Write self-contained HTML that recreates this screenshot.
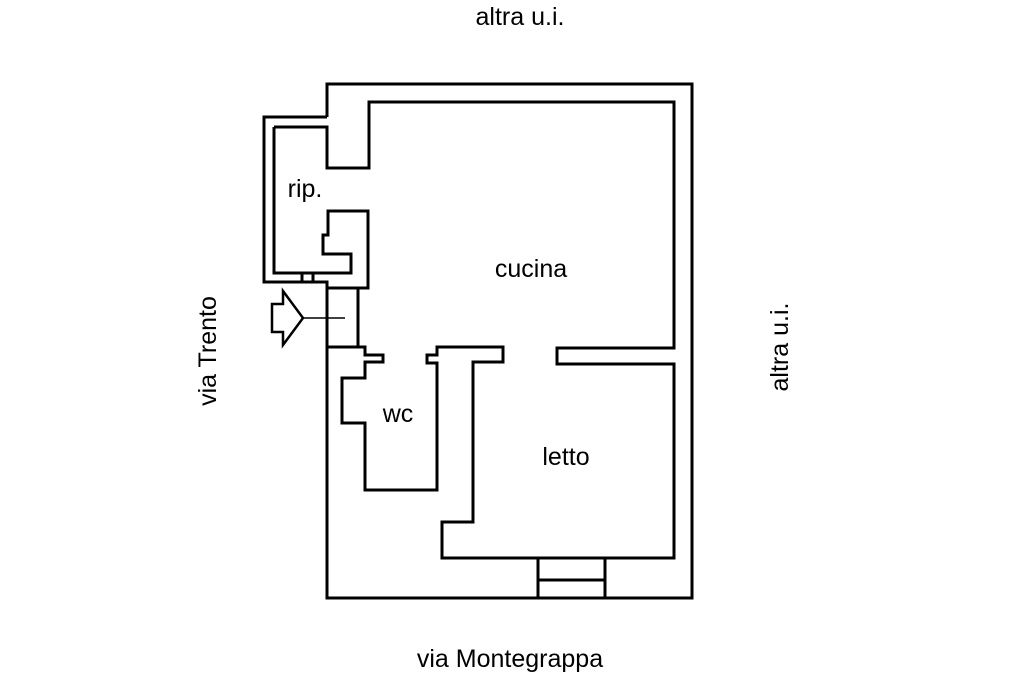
<!DOCTYPE html>
<html><head><meta charset="utf-8"><style>
html,body{margin:0;padding:0;background:#fff;}
svg{display:block}
text{font-family:"Liberation Sans",sans-serif;fill:#000;}
</style></head><body>
<svg width="1024" height="682" viewBox="0 0 1024 682" xmlns="http://www.w3.org/2000/svg">
<rect width="1024" height="682" fill="#fff"/>
<g fill="none" stroke="#000" stroke-width="3" stroke-linejoin="miter">
<polyline points="327,117 327,84 692,84 692,598 327,598 327,282 264,282 264,117 327,117"/>
<polyline points="274,127 327,127 327,168 369,168 369,102 674,102 674,348 557,348 557,362"/>
<polyline points="274,127 274,273 351,273 351,254 323,254 323,235 328,235 328,211 368,211 368,288 327,288"/>
<line x1="358" y1="288" x2="358" y2="347"/>
<line x1="327" y1="347" x2="358" y2="347"/>
<line x1="302" y1="273" x2="302" y2="282"/>
<line x1="313" y1="273" x2="313" y2="282"/>
<polyline points="358,347 365,347 365,355 383,355 383,362 365,362 365,378 342,378 342,423 365,423 365,490 437,490 437,363 427,363 427,355 437,355 437,347 503,347 503,362 473,362 473,522 442,522 442,558 674,558 674,364 557,364 557,348"/>
<line x1="538" y1="558" x2="538" y2="598"/>
<line x1="605" y1="558" x2="605" y2="598"/>
<line x1="538" y1="580" x2="605" y2="580"/>
<polygon points="283,291 303,318 283,345 283,332 272,332 272,304 283,304" stroke-width="2.5"/>
<line x1="303" y1="318" x2="345" y2="318" stroke-width="1.5"/>
</g>
<text x="520" y="25" font-size="25" text-anchor="middle">altra u.i.</text>
<text x="510" y="667" font-size="25" text-anchor="middle">via Montegrappa</text>
<text transform="translate(216,351) rotate(-90)" font-size="25" text-anchor="middle">via Trento</text>
<text transform="translate(788,347) rotate(-90)" font-size="25" text-anchor="middle">altra u.i.</text>
<text x="305" y="197" font-size="25" text-anchor="middle">rip.</text>
<text x="531" y="277" font-size="25" text-anchor="middle">cucina</text>
<text x="398" y="422" font-size="25" text-anchor="middle">wc</text>
<text x="566" y="465" font-size="25" text-anchor="middle">letto</text>
</svg>
</body></html>
